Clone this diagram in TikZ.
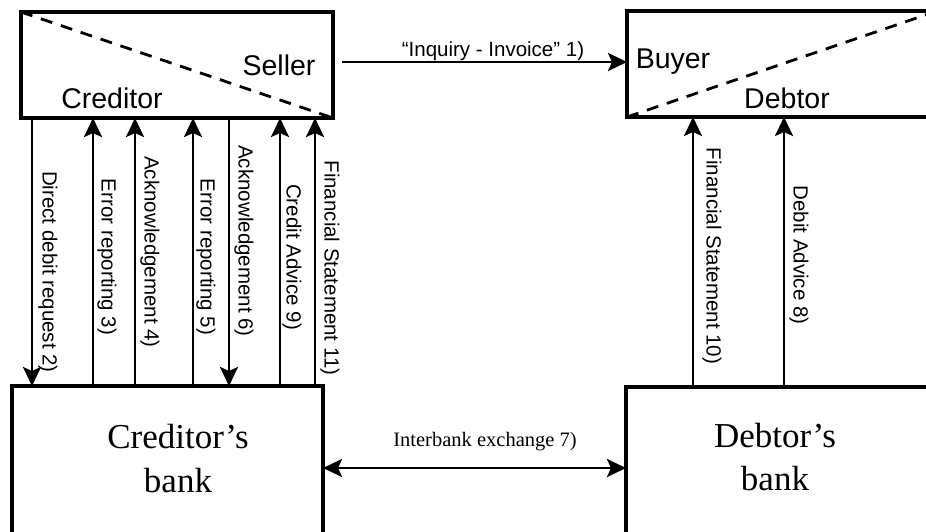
\documentclass[tikz,border=0pt]{standalone}
\usepackage{fontspec}
\setmainfont{Liberation Serif}
\setsansfont{Liberation Sans}
\usetikzlibrary{arrows.meta}
\begin{document}
\begin{tikzpicture}[x=1pt,y=-1pt,
  box/.style={draw, line width=3.2pt, inner sep=0pt, outer sep=0pt, anchor=north west},
  tip/.style={},
  arr/.style={line width=2.8pt, -{Stealth[length=19pt,width=18pt,inset=4pt]}},
  biarr/.style={line width=2.8pt, {Stealth[length=19pt,width=18pt,inset=4pt]}-{Stealth[length=19pt,width=18pt,inset=4pt]}},
  diag/.style={line width=2.8pt, dash pattern=on 12pt off 9pt},
  lab/.style={font=\sffamily\fontsize{20.5}{24}\selectfont, inner sep=0pt, rotate=-90},
  hlab/.style={font=\sffamily\fontsize{20.5}{24}\selectfont, inner sep=0pt},
  who/.style={font=\sffamily\fontsize{28.5}{34}\selectfont, inner sep=0pt},
  banktxt/.style={font=\fontsize{35}{44}\selectfont, inner sep=0pt, anchor=base},
  iblab/.style={font=\fontsize{20.5}{24}\selectfont, inner sep=0pt}
]
\useasboundingbox (0,0) rectangle (926,531);
\clip (0,0) rectangle (926,531);

% boxes
\node[box, minimum width=312pt, minimum height=106pt] (seller) at (21,12) {};
\node[box, minimum width=310pt, minimum height=106pt] (buyer) at (627,11) {};
\node[box, minimum width=311pt, minimum height=200pt] (credbank) at (12,386) {};
\node[box, minimum width=330pt, minimum height=200pt] (debbank) at (626,387) {};

% diagonals
\draw[diag] (seller.north west) -- (seller.south east);
\draw[diag] (buyer.south west) -- (buyer.north east);

% box texts
\node[who] (tseller) at (279,65) {Seller};
\node[who] (tcred) at (112,98) {Creditor};
\node[who] (tbuyer) at (673,62) {Buyer};
\node[who] (tdebt) at (787,98) {Debtor};

\node[banktxt] (cb1) at (178,448) {Creditor’s};
\node[banktxt] (cb2) at (178,492) {bank};
\node[banktxt] (db1) at (775,447) {Debtor’s};
\node[banktxt] (db2) at (775,490) {bank};

% top arrow
\coordinate (ty) at (0,62);
\draw[arr, shorten <=9pt] (seller.east |- ty) -- (buyer.west |- ty);
\node[hlab] (inq) at (493,51) {“Inquiry - Invoice” 1)};

% interbank
\coordinate (iy) at (0,468);
\draw[biarr] (credbank.east |- iy) -- (debbank.west |- iy);
\node[iblab] (ibl) at (485,442) {Interbank exchange 7)};

% vertical arrows creditor side
\coordinate (x2) at (32,0);
\coordinate (x3) at (93,0);
\coordinate (x4) at (135,0);
\coordinate (x5) at (193,0);
\coordinate (x6) at (229,0);
\coordinate (x9) at (280,0);
\coordinate (x11) at (315,0);
\draw[arr] (seller.south -| x2) -- (credbank.north -| x2);
\draw[arr] (credbank.north -| x3) -- (seller.south -| x3);
\draw[arr] (credbank.north -| x4) -- (seller.south -| x4);
\draw[arr] (credbank.north -| x5) -- (seller.south -| x5);
\draw[arr] (seller.south -| x6) -- (credbank.north -| x6);
\draw[arr] (credbank.north -| x9) -- (seller.south -| x9);
\draw[arr] (credbank.north -| x11) -- (seller.south -| x11);

\node[lab] (l2) at (48,272) {Direct debit request 2)};
\node[lab] (l3) at (107,257) {Error reporting 3)};
\node[lab] (l4) at (150,252) {Acknowledgement 4)};
\node[lab] (l5) at (206,257) {Error reporting 5)};
\node[lab] (l6) at (244,241) {Acknowledgement 6)};
\node[lab] (l9) at (292,257) {Credit Advice 9)};
\node[lab] (l11) at (330,268) {Financial Statement 11)};

% debtor side
\coordinate (x10) at (693,0);
\coordinate (x8) at (784,0);
\draw[arr] (debbank.north -| x10) -- (buyer.south -| x10);
\draw[arr] (debbank.north -| x8) -- (buyer.south -| x8);
\node[lab] (l10) at (712,256) {Financial Statement 10)};
\node[lab] (l8) at (799,255) {Debit Advice 8)};
\end{tikzpicture}
\end{document}
